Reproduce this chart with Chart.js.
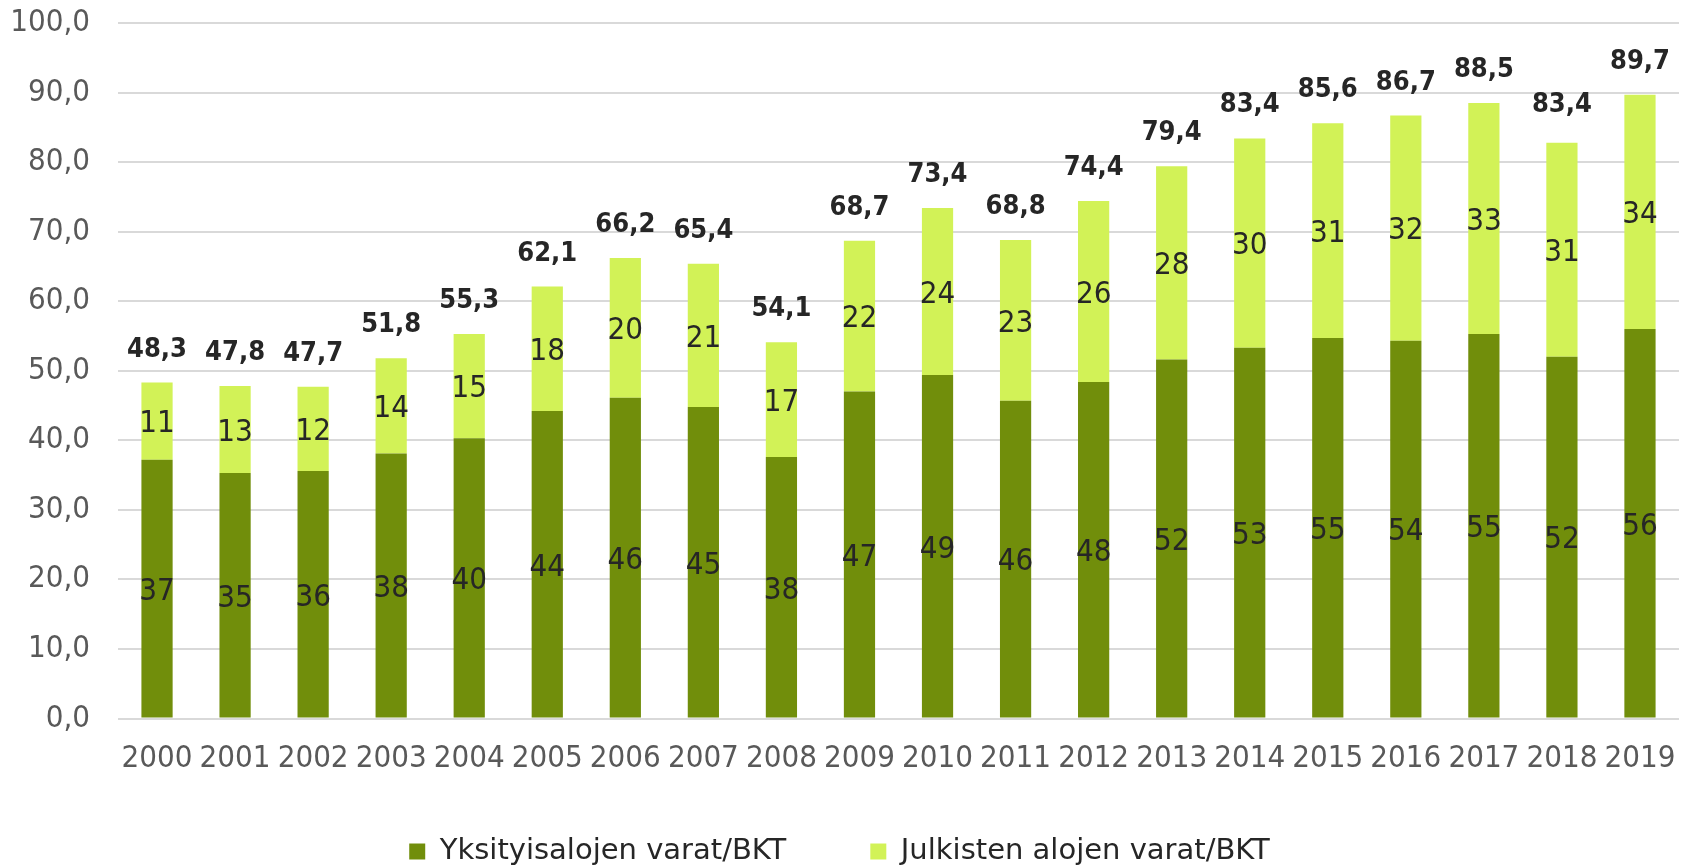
<!DOCTYPE html>
<html>
<head>
<meta charset="utf-8">
<script src="https://cdn.jsdelivr.net/npm/chart.js@4.4.1/dist/chart.umd.min.js"></script>
<style>
html,body{margin:0;padding:0;background:#fff;}
#wrap{width:1687px;height:868px;position:relative;}
</style>
</head>
<body>
<div id="wrap"><canvas id="c" width="1687" height="868"></canvas></div>
<script>
const years = ['2000','2001','2002','2003','2004','2005','2006','2007','2008','2009','2010','2011','2012','2013','2014','2015','2016','2017','2018','2019'];
const privateValues = [37.2,35.3,35.6,38.1,40.3,44.2,46.1,44.8,37.6,47.0,49.4,45.7,48.4,51.6,53.3,54.7,54.3,55.3,52.0,56.0];
const publicValues  = [11.1,12.5,12.1,13.7,15.0,17.9,20.1,20.6,16.5,21.7,24.0,23.1,26.0,27.8,30.1,30.9,32.4,33.2,30.8,33.7];
const totalLabels   = [48.3,47.8,47.7,51.8,55.3,62.1,66.2,65.4,54.1,68.7,73.4,68.8,74.4,79.4,83.4,85.6,86.7,88.5,83.4,89.7];
const yTicks = [0,10,20,30,40,50,60,70,80,90,100];
const seriesNames = ['Yksityisalojen varat/BKT','Julkisten alojen varat/BKT'];

const COND = '"DejaVu Sans Condensed", "DejaVu Sans", sans-serif';
const fmt1 = v => v.toFixed(1).replace('.', ',');

const labelPlugin = {
  id: 'valueLabels',
  afterInit(chart) {
    const lg = chart.legend;
    if (lg) {
      const proto = Object.getPrototypeOf(lg);
      lg.fit = function () { proto.fit.call(this); this.height = 115; };
    }
  },
  beforeDraw(chart) {
    const sx = chart.scales.x;
    if (sx) sx._computeLabelArea = function () { return undefined; };
  },
  afterDatasetsDraw(chart) {
    const ctx = chart.ctx;
    ctx.save();
    ctx.fillStyle = '#262626';
    ctx.textAlign = 'center';
    ctx.textBaseline = 'alphabetic';
    chart.data.datasets.forEach((ds, di) => {
      const meta = chart.getDatasetMeta(di);
      meta.data.forEach((el, i) => {
        const v = ds.data[i];
        if (ds.type === 'line') {
          ctx.font = 'bold 27px ' + COND;
          ctx.fillText(fmt1(v), el.x, el.y - 26);
        } else {
          const p = el.getProps(['x', 'y', 'base'], true);
          ctx.font = '31px ' + COND;
          ctx.fillText(String(Math.round(v)), p.x, (p.y + p.base) / 2 + 0.365 * 31);
        }
      });
    });
    ctx.restore();
  }
};

new Chart(document.getElementById('c'), {
  data: {
    labels: years,
    datasets: [
      { type: 'bar', label: seriesNames[0], data: privateValues, backgroundColor: '#718E0B', borderWidth: 0, stack: 's', barPercentage: 0.4, categoryPercentage: 1.0 },
      { type: 'bar', label: seriesNames[1], data: publicValues, backgroundColor: '#D2F257', borderWidth: 0, stack: 's', barPercentage: 0.4, categoryPercentage: 1.0 },
      { type: 'line', label: 'total', data: totalLabels, showLine: false, pointRadius: 0, pointHoverRadius: 0, stack: 'total', borderWidth: 0 }
    ]
  },
  options: {
    responsive: false,
    animation: false,
    events: [],
    layout: { padding: { top: 23, right: 8, left: 0, bottom: 0 } },
    plugins: {
      tooltip: { enabled: false },
      legend: {
        display: true,
        position: 'bottom',
        labels: {
          filter: item => item.datasetIndex < 2,
          boxWidth: 16, boxHeight: 16, padding: 84,
          color: '#262626',
          font: { family: '"DejaVu Sans", sans-serif', size: 29 }
        }
      }
    },
    scales: {
      x: {
        stacked: true,
        offset: true,
        grid: { display: false, drawTicks: false },
        border: { display: false },
        ticks: { color: '#595959', font: { family: COND, size: 31 }, padding: 22, maxRotation: 0, autoSkip: false },
        afterFit(scale) { scale.height = 34.5; scale.paddingLeft = 0; scale.paddingRight = 0; }
      },
      y: {
        stacked: true,
        min: 0, max: 100,
        afterBuildTicks(scale) { scale.ticks = yTicks.map(v => ({ value: v })); },
        grid: { color: '#D9D9D9', lineWidth: 2, drawTicks: false },
        border: { display: false },
        ticks: { color: '#595959', font: { family: COND, size: 31 }, padding: 28, callback: v => fmt1(v) },
        afterFit(scale) { scale.width = 118; scale.paddingTop = 0; scale.paddingBottom = 0; }
      }
    }
  },
  plugins: [labelPlugin]
});
</script>
</body>
</html>
